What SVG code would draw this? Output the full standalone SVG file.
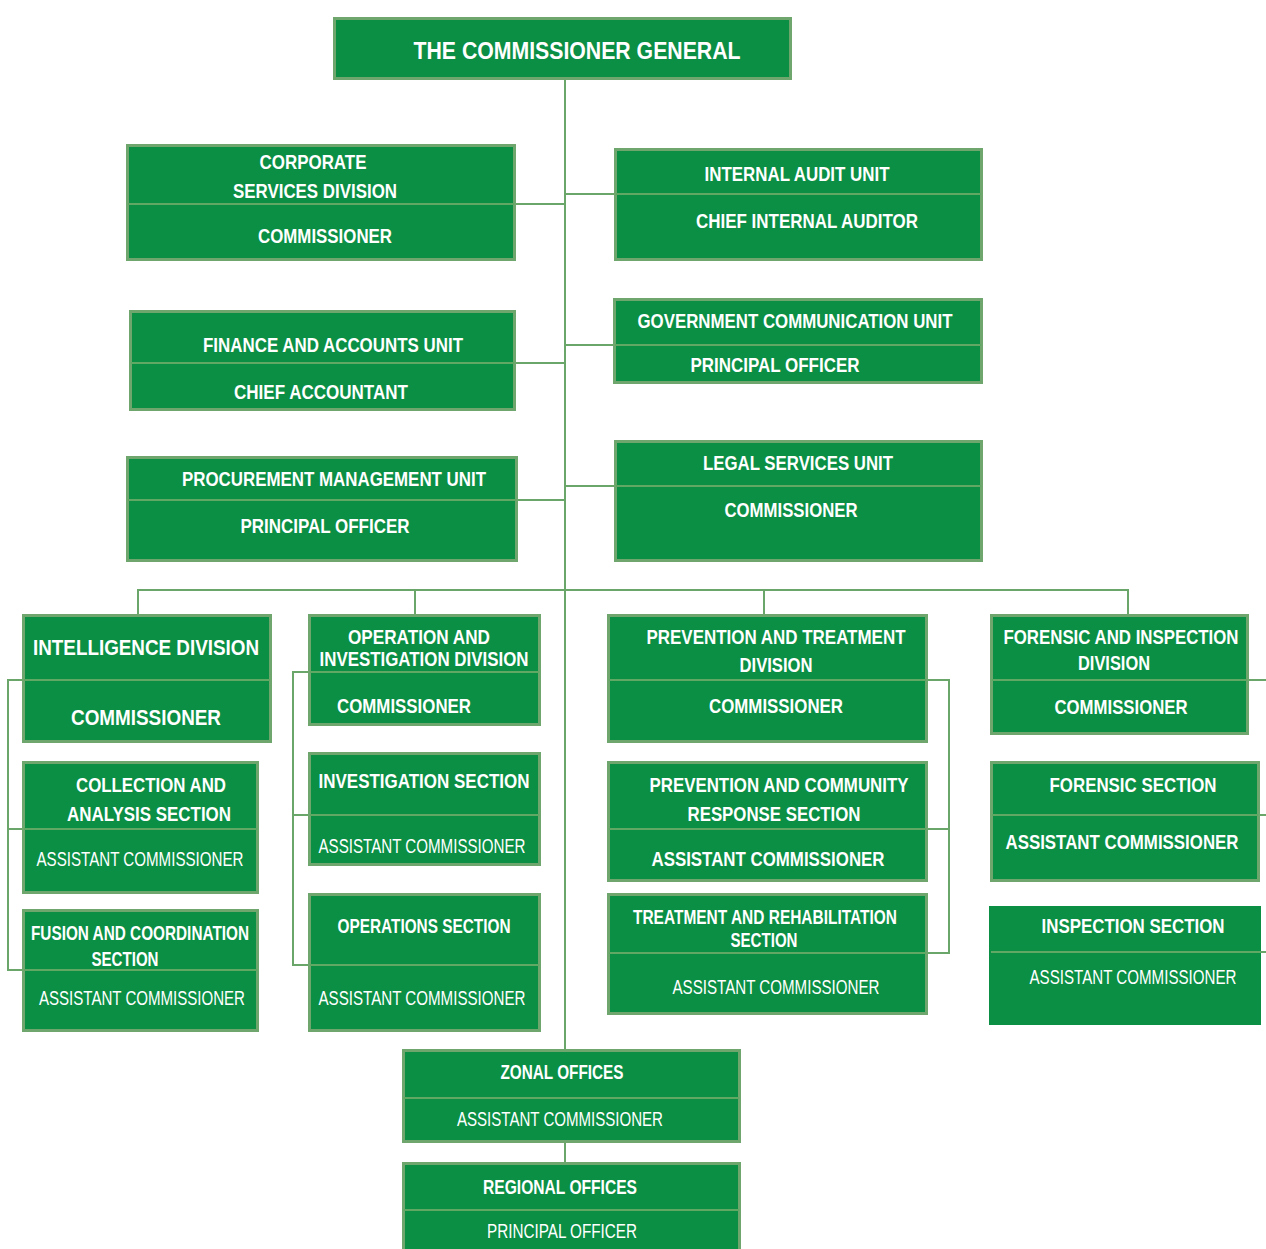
<svg xmlns="http://www.w3.org/2000/svg" width="1266" height="1249" viewBox="0 0 1266 1249">
<style>
.box{fill:#0a8f45;stroke:#6ea66e;stroke-width:3}
.box2{fill:#0a8f45;stroke:none}
.div{stroke:#62a865;stroke-width:2;fill:none}
.con{stroke:#6aa66a;stroke-width:2;fill:none}
text{fill:#ffffff;font-family:"Liberation Sans Narrow","Liberation Sans",Arial,sans-serif;text-anchor:middle}
.b{font-weight:bold;font-size:21px}
.r{font-weight:normal;font-size:20px}
.t{font-weight:bold;font-size:24px}
.l{font-weight:bold;font-size:22px}
</style>
<rect width="1266" height="1249" fill="#ffffff"/>
<g id="connectors">
<line class="con" x1="565" y1="80" x2="565" y2="1050"/>
<line class="con" x1="565" y1="1142" x2="565" y2="1162"/>
<line class="con" x1="516" y1="204" x2="565" y2="204"/>
<line class="con" x1="565" y1="194" x2="614" y2="194"/>
<line class="con" x1="516" y1="363" x2="565" y2="363"/>
<line class="con" x1="565" y1="345" x2="613" y2="345"/>
<line class="con" x1="518" y1="500" x2="565" y2="500"/>
<line class="con" x1="565" y1="486" x2="614" y2="486"/>
<line class="con" x1="138" y1="590" x2="1128" y2="590"/>
<line class="con" x1="138" y1="589" x2="138" y2="614"/>
<line class="con" x1="415" y1="589" x2="415" y2="614"/>
<line class="con" x1="764" y1="589" x2="764" y2="614"/>
<line class="con" x1="1128" y1="589" x2="1128" y2="614"/>
<polyline class="con" points="22,680 8,680 8,970 22,970"/>
<line class="con" x1="8" y1="829" x2="22" y2="829"/>
<polyline class="con" points="308,672 293,672 293,965 308,965"/>
<line class="con" x1="293" y1="815" x2="308" y2="815"/>
<polyline class="con" points="928,680 949,680 949,953 928,953"/>
<line class="con" x1="928" y1="829" x2="949" y2="829"/>
<line class="con" x1="1249" y1="680" x2="1266" y2="680"/>
<line class="con" x1="1260" y1="815" x2="1266" y2="815"/>
<line class="con" x1="1261" y1="952" x2="1266" y2="952"/>
</g>
<g id="commissioner-general">
<rect class="box" x="334.5" y="18.5" width="456" height="60"/>
<text class="t" x="577" y="59" textLength="327" lengthAdjust="spacingAndGlyphs">THE COMMISSIONER GENERAL</text>
</g>
<g id="corporate">
<rect class="box" x="127.5" y="145.5" width="387" height="114"/>
<line class="div" x1="128" y1="204" x2="514" y2="204"/>
<text class="b" x="313" y="169" textLength="107" lengthAdjust="spacingAndGlyphs">CORPORATE</text>
<text class="b" x="315" y="198" textLength="164" lengthAdjust="spacingAndGlyphs">SERVICES DIVISION</text>
<text class="b" x="325" y="243" textLength="134" lengthAdjust="spacingAndGlyphs">COMMISSIONER</text>
</g>
<g id="internal-audit">
<rect class="box" x="615.5" y="149.5" width="366" height="110"/>
<line class="div" x1="616" y1="194" x2="981" y2="194"/>
<text class="b" x="797" y="181" textLength="185" lengthAdjust="spacingAndGlyphs">INTERNAL AUDIT UNIT</text>
<text class="b" x="807" y="228" textLength="222" lengthAdjust="spacingAndGlyphs">CHIEF INTERNAL AUDITOR</text>
</g>
<g id="finance">
<rect class="box" x="130.5" y="311.5" width="384" height="98"/>
<line class="div" x1="131" y1="363" x2="514" y2="363"/>
<text class="b" x="333" y="352" textLength="260" lengthAdjust="spacingAndGlyphs">FINANCE AND ACCOUNTS UNIT</text>
<text class="b" x="321" y="399" textLength="174" lengthAdjust="spacingAndGlyphs">CHIEF ACCOUNTANT</text>
</g>
<g id="gov-communication">
<rect class="box" x="614.5" y="299.5" width="367" height="83"/>
<line class="div" x1="615" y1="345" x2="981" y2="345"/>
<text class="b" x="795" y="328" textLength="315" lengthAdjust="spacingAndGlyphs">GOVERNMENT COMMUNICATION UNIT</text>
<text class="b" x="775" y="372" textLength="169" lengthAdjust="spacingAndGlyphs">PRINCIPAL OFFICER</text>
</g>
<g id="procurement">
<rect class="box" x="127.5" y="457.5" width="389" height="103"/>
<line class="div" x1="128" y1="500" x2="516" y2="500"/>
<text class="b" x="334" y="486" textLength="304" lengthAdjust="spacingAndGlyphs">PROCUREMENT MANAGEMENT UNIT</text>
<text class="b" x="325" y="533" textLength="169" lengthAdjust="spacingAndGlyphs">PRINCIPAL OFFICER</text>
</g>
<g id="legal">
<rect class="box" x="615.5" y="441.5" width="366" height="119"/>
<line class="div" x1="616" y1="486" x2="981" y2="486"/>
<text class="b" x="798" y="470" textLength="190" lengthAdjust="spacingAndGlyphs">LEGAL SERVICES UNIT</text>
<text class="b" x="791" y="517" textLength="133" lengthAdjust="spacingAndGlyphs">COMMISSIONER</text>
</g>
<g id="intelligence">
<rect class="box" x="23.5" y="615.5" width="247" height="126"/>
<line class="div" x1="24" y1="680" x2="270" y2="680"/>
<text class="l" x="146" y="655" textLength="226" lengthAdjust="spacingAndGlyphs">INTELLIGENCE DIVISION</text>
<text class="l" x="146" y="725" textLength="150" lengthAdjust="spacingAndGlyphs">COMMISSIONER</text>
</g>
<g id="collection">
<rect class="box" x="23.5" y="762.5" width="234" height="130"/>
<line class="div" x1="24" y1="829" x2="257" y2="829"/>
<text class="b" x="151" y="792" textLength="150" lengthAdjust="spacingAndGlyphs">COLLECTION AND</text>
<text class="b" x="149" y="821" textLength="164" lengthAdjust="spacingAndGlyphs">ANALYSIS SECTION</text>
<text class="r" x="140" y="866" textLength="207" lengthAdjust="spacingAndGlyphs">ASSISTANT COMMISSIONER</text>
</g>
<g id="fusion">
<rect class="box" x="23.5" y="910.5" width="234" height="120"/>
<line class="div" x1="24" y1="970" x2="257" y2="970"/>
<text class="b" x="140" y="940" textLength="218" lengthAdjust="spacingAndGlyphs">FUSION AND COORDINATION</text>
<text class="b" x="125" y="966" textLength="67" lengthAdjust="spacingAndGlyphs">SECTION</text>
<text class="r" x="142" y="1005" textLength="206" lengthAdjust="spacingAndGlyphs">ASSISTANT COMMISSIONER</text>
</g>
<g id="operation-investigation">
<rect class="box" x="309.5" y="615.5" width="230" height="109"/>
<line class="div" x1="310" y1="672" x2="539" y2="672"/>
<text class="b" x="419" y="644" textLength="142" lengthAdjust="spacingAndGlyphs">OPERATION AND</text>
<text class="b" x="424" y="666" textLength="209" lengthAdjust="spacingAndGlyphs">INVESTIGATION DIVISION</text>
<text class="b" x="404" y="713" textLength="134" lengthAdjust="spacingAndGlyphs">COMMISSIONER</text>
</g>
<g id="investigation-section">
<rect class="box" x="309.5" y="753.5" width="230" height="111"/>
<line class="div" x1="310" y1="815" x2="539" y2="815"/>
<text class="b" x="424" y="788" textLength="211" lengthAdjust="spacingAndGlyphs">INVESTIGATION SECTION</text>
<text class="r" x="422" y="853" textLength="207" lengthAdjust="spacingAndGlyphs">ASSISTANT COMMISSIONER</text>
</g>
<g id="operations-section">
<rect class="box" x="309.5" y="894.5" width="230" height="136"/>
<line class="div" x1="310" y1="965" x2="539" y2="965"/>
<text class="b" x="424" y="933" textLength="173" lengthAdjust="spacingAndGlyphs">OPERATIONS SECTION</text>
<text class="r" x="422" y="1005" textLength="207" lengthAdjust="spacingAndGlyphs">ASSISTANT COMMISSIONER</text>
</g>
<g id="prevention-treatment">
<rect class="box" x="608.5" y="615.5" width="318" height="126"/>
<line class="div" x1="609" y1="680" x2="926" y2="680"/>
<text class="b" x="776" y="644" textLength="259" lengthAdjust="spacingAndGlyphs">PREVENTION AND TREATMENT</text>
<text class="b" x="776" y="672" textLength="73" lengthAdjust="spacingAndGlyphs">DIVISION</text>
<text class="b" x="776" y="713" textLength="134" lengthAdjust="spacingAndGlyphs">COMMISSIONER</text>
</g>
<g id="prevention-community">
<rect class="box" x="608.5" y="762.5" width="318" height="118"/>
<line class="div" x1="609" y1="829" x2="926" y2="829"/>
<text class="b" x="779" y="792" textLength="259" lengthAdjust="spacingAndGlyphs">PREVENTION AND COMMUNITY</text>
<text class="b" x="774" y="821" textLength="173" lengthAdjust="spacingAndGlyphs">RESPONSE SECTION</text>
<text class="b" x="768" y="866" textLength="233" lengthAdjust="spacingAndGlyphs">ASSISTANT COMMISSIONER</text>
</g>
<g id="treatment-rehabilitation">
<rect class="box" x="608.5" y="894.5" width="318" height="119"/>
<line class="div" x1="609" y1="953" x2="926" y2="953"/>
<text class="b" x="765" y="924" textLength="264" lengthAdjust="spacingAndGlyphs">TREATMENT AND REHABILITATION</text>
<text class="b" x="764" y="947" textLength="67" lengthAdjust="spacingAndGlyphs">SECTION</text>
<text class="r" x="776" y="994" textLength="207" lengthAdjust="spacingAndGlyphs">ASSISTANT COMMISSIONER</text>
</g>
<g id="forensic-inspection">
<rect class="box" x="991.5" y="615.5" width="256" height="118"/>
<line class="div" x1="992" y1="680" x2="1247" y2="680"/>
<text class="b" x="1121" y="644" textLength="235" lengthAdjust="spacingAndGlyphs">FORENSIC AND INSPECTION</text>
<text class="b" x="1114" y="670" textLength="72" lengthAdjust="spacingAndGlyphs">DIVISION</text>
<text class="b" x="1121" y="714" textLength="133" lengthAdjust="spacingAndGlyphs">COMMISSIONER</text>
</g>
<g id="forensic-section">
<rect class="box" x="991.5" y="762.5" width="267" height="118"/>
<line class="div" x1="992" y1="815" x2="1258" y2="815"/>
<text class="b" x="1133" y="792" textLength="167" lengthAdjust="spacingAndGlyphs">FORENSIC SECTION</text>
<text class="b" x="1122" y="849" textLength="233" lengthAdjust="spacingAndGlyphs">ASSISTANT COMMISSIONER</text>
</g>
<g id="inspection-section">
<rect class="box2" x="989" y="906" width="272" height="119"/>
<line class="div" x1="991" y1="952" x2="1261" y2="952"/>
<text class="b" x="1133" y="933" textLength="183" lengthAdjust="spacingAndGlyphs">INSPECTION SECTION</text>
<text class="r" x="1133" y="984" textLength="207" lengthAdjust="spacingAndGlyphs">ASSISTANT COMMISSIONER</text>
</g>
<g id="zonal-offices">
<rect class="box" x="403.5" y="1050.5" width="336" height="91"/>
<line class="div" x1="404" y1="1098" x2="739" y2="1098"/>
<text class="b" x="562" y="1079" textLength="123" lengthAdjust="spacingAndGlyphs">ZONAL OFFICES</text>
<text class="r" x="560" y="1126" textLength="206" lengthAdjust="spacingAndGlyphs">ASSISTANT COMMISSIONER</text>
</g>
<g id="regional-offices">
<rect class="box" x="403.5" y="1163.5" width="336" height="90"/>
<line class="div" x1="404" y1="1210" x2="739" y2="1210"/>
<text class="b" x="560" y="1194" textLength="154" lengthAdjust="spacingAndGlyphs">REGIONAL  OFFICES</text>
<text class="r" x="562" y="1238" textLength="150" lengthAdjust="spacingAndGlyphs">PRINCIPAL OFFICER</text>
</g>
</svg>
